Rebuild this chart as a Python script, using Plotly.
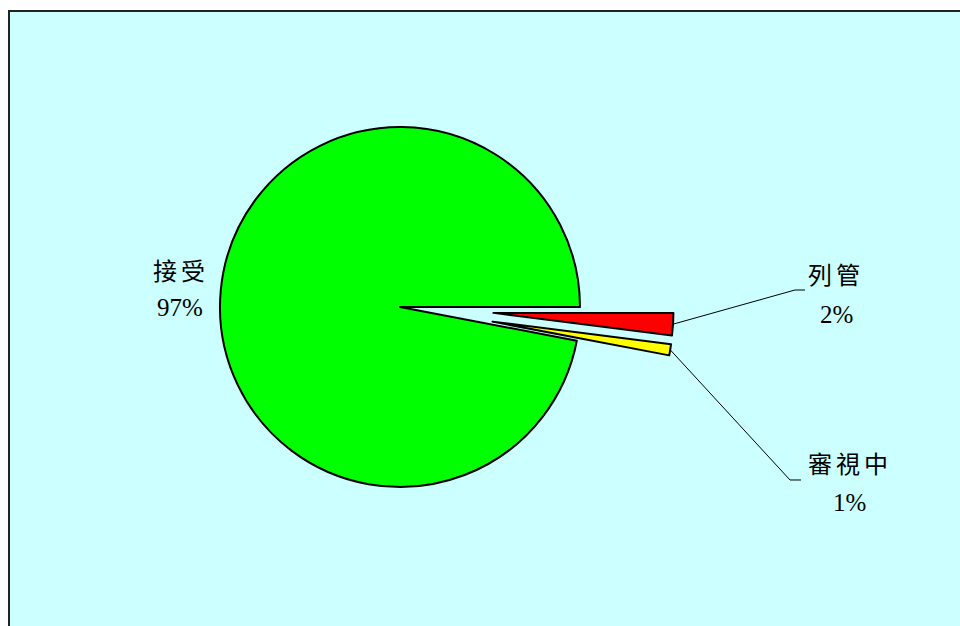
import math
import plotly.graph_objects as go

# Slice data, listed in drawing order (clockwise from 3 o'clock)
labels = ["列管", "審視中", "接受"]
values = [2, 1, 97]
colors = ["#FF0000", "#FFFF00", "#00FF00"]
pulls = [0.52, 0.52, 0.0]

W, H = 960, 626
CX, CY = 400, 307          # pie centre in px
R = 180                    # pie radius in px
half = R * (1 + max(pulls))


def px(x):
    return x / W


def py(y):
    return 1 - y / H


fig = go.Figure(
    go.Pie(
        labels=labels,
        values=values,
        sort=False,
        direction="clockwise",
        rotation=90,
        pull=pulls,
        marker=dict(colors=colors, line=dict(color="black", width=2)),
        textinfo="none",
        hoverinfo="label+percent",
        showlegend=False,
        domain=dict(x=[px(CX - half), px(CX + half)],
                    y=[py(CY + half), py(CY - half)]),
    )
)

# label layout: name centre, percent centre, leader elbow (None = no leader)
label_pos = {
    "列管": dict(name=(836, 273), pct=(836, 314), elbow=[(795, 290), (805, 290)]),
    "審視中": dict(name=(850, 462), pct=(849, 502), elbow=[(790, 480), (801, 480)]),
    "接受": dict(name=(181, 270), pct=(180, 307), elbow=None),
}

total = sum(values)
shapes = [
    dict(type="rect", xref="paper", yref="paper",
         x0=px(9), y0=py(11), x1=1.05, y1=-0.05,
         fillcolor="#CCFFFF", line=dict(color="#222222", width=2), layer="below")
]
annotations = []
cum = 0
for lab, v, p in zip(labels, values, pulls):
    mid = math.radians((cum + v / 2) / total * 360)
    cum += v
    pos = label_pos[lab]
    if pos["elbow"]:
        ax = CX + R * (1 + p) * math.cos(mid)
        ay = CY + R * (1 + p) * math.sin(mid)
        pts = [(ax, ay)] + pos["elbow"]
        path = "M " + " L ".join(f"{px(x):.5f},{py(y):.5f}" for x, y in pts)
        shapes.append(dict(type="path", xref="paper", yref="paper", path=path,
                           line=dict(color="black", width=1)))
    nx, ny = pos["name"]
    annotations.append(dict(
        x=px(nx), y=py(ny), xref="paper", yref="paper", showarrow=False,
        xanchor="center", yanchor="middle",
        text=f"<span style='letter-spacing:4px'>{lab}</span>",
        font=dict(family="Noto Sans CJK TC", size=24, color="black")))
    qx, qy = pos["pct"]
    annotations.append(dict(
        x=px(qx), y=py(qy), xref="paper", yref="paper", showarrow=False,
        xanchor="center", yanchor="middle",
        text=f"{round(v / total * 100)}%",
        font=dict(family="Liberation Serif", size=25, color="black")))

fig.update_layout(
    width=W, height=H,
    margin=dict(l=0, r=0, t=0, b=0),
    paper_bgcolor="white",
    shapes=shapes,
    annotations=annotations,
)

fig.write_html("out.html")
